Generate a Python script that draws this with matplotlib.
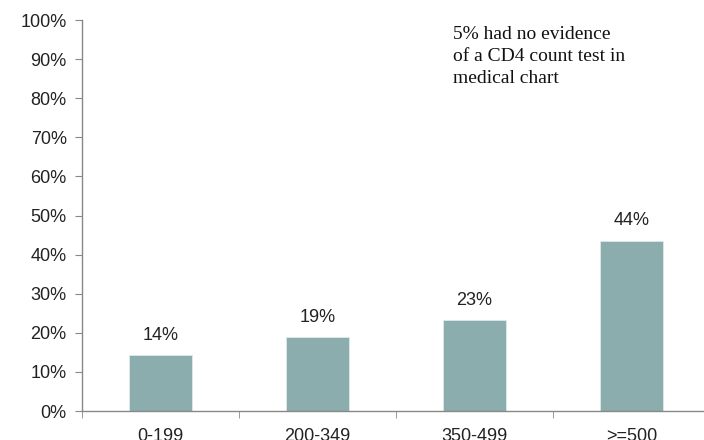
import matplotlib.pyplot as plt
from matplotlib.ticker import FixedLocator

# CD4 count categories and share of patients
categories = ['0-199', '200-349', '350-499', '>=500']
values = [14.3, 18.8, 23.2, 43.6]
labels = ['14%', '19%', '23%', '44%']
yticks = list(range(0, 101, 10))
note = '5% had no evidence\nof a CD4 count test in\nmedical chart'

plt.rcParams['font.family'] = ['Liberation Sans', 'DejaVu Sans']

fig = plt.figure(figsize=(7.04, 4.4), dpi=100)
ax = fig.add_axes([0.1165, 0.0659, 0.892, 0.8886])

x = range(len(categories))
ax.bar(x, values, width=0.4, color='#8cadad', edgecolor='#dfe9e9', linewidth=0.6)

for xi, v, lab in zip(x, values, labels):
    ax.annotate(lab, (xi, v), xytext=(0, 8), textcoords='offset points',
                ha='center', va='bottom', fontsize=13, color='#222222')

ax.set_xlim(-0.5, len(categories) - 0.5)
ax.set_ylim(0, 100)
ax.set_yticks(yticks)
ax.set_yticklabels(['{0}%'.format(t) for t in yticks])
ax.set_xticks(list(x))
ax.set_xticklabels(categories)
ax.xaxis.set_minor_locator(FixedLocator([i - 0.5 for i in range(len(categories) + 1)]))

ax.tick_params(axis='y', length=5, color='#888888', labelsize=13,
               labelcolor='#222222', pad=6)
ax.tick_params(axis='x', which='major', length=0, labelsize=13,
               labelcolor='#222222', pad=12)
ax.tick_params(axis='x', which='minor', length=5, color='#888888')

for s in ['top', 'right']:
    ax.spines[s].set_visible(False)
for s in ['left', 'bottom']:
    ax.spines[s].set_color('#888888')
    ax.spines[s].set_linewidth(1)

fig.text(453 / 704, 1 - 26 / 440, note, family='Liberation Serif', fontsize=14,
         va='top', ha='left', linespacing=1.38, color='#111111')

fig.savefig('out.png', dpi=100)
